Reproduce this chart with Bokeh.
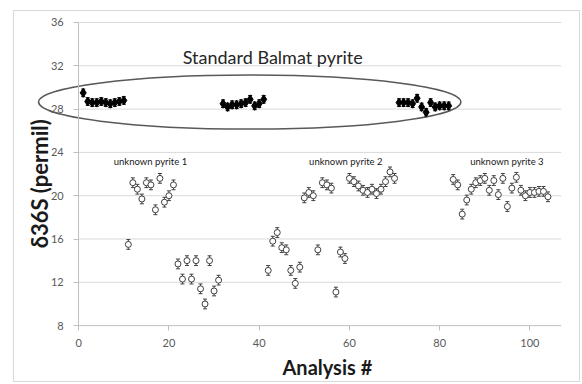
import math
from bokeh.plotting import figure
from bokeh.models import ColumnDataSource, Whisker, TeeHead, Label, Range1d, FixedTicker, Title
from bokeh.embed import file_html
from bokeh.resources import INLINE

# ---------------- data ----------------
x_ticks = [0, 20, 40, 60, 80, 100]
y_ticks = [8, 12, 16, 20, 24, 28, 32, 36]

std_x = [1, 2, 3, 4, 5, 6, 7, 8, 9, 10,
         32, 33, 34, 35, 36, 37, 38, 39, 40, 41,
         71, 72, 73, 74, 75, 76, 77, 78, 79, 80, 81, 82]
std_y = [29.5, 28.7, 28.6, 28.6, 28.7, 28.6, 28.5, 28.6, 28.7, 28.8,
         28.5, 28.2, 28.4, 28.4, 28.5, 28.6, 28.9, 28.3, 28.5, 28.9,
         28.6, 28.6, 28.6, 28.5, 29.0, 28.2, 27.7, 28.6, 28.2, 28.3, 28.3, 28.3]

unk_x = [11, 12, 13, 14, 15, 16, 17, 18, 19, 20, 21, 22, 23, 24, 25, 26, 27, 28, 29, 30, 31,
         42, 43, 44, 45, 46, 47, 48, 49, 50, 51, 52, 53, 54, 55, 56, 57, 58, 59,
         60, 61, 62, 63, 64, 65, 66, 67, 68, 69, 70,
         83, 84, 85, 86, 87, 88, 89, 90, 91, 92, 93, 94, 95, 96, 97, 98, 99, 100, 101, 102, 103, 104]
unk_y = [15.5, 21.2, 20.6, 19.7, 21.2, 21.0, 18.7, 21.6, 19.4, 20.0, 21.0,
         13.7, 12.3, 14.0, 12.3, 14.0, 11.4, 10.0, 14.0, 11.2, 12.2,
         13.1, 15.8, 16.6, 15.2, 15.0, 13.1, 11.9, 13.4, 19.8, 20.3, 20.0, 15.0,
         21.2, 21.0, 20.7, 11.1, 14.8, 14.2,
         21.6, 21.3, 20.9, 20.5, 20.3, 20.6, 20.2, 20.6, 21.3, 22.2, 21.6,
         21.5, 21.0, 18.3, 19.6, 20.6, 21.2, 21.4, 21.6, 20.5, 21.4, 20.1,
         21.6, 19.0, 20.7, 21.7, 20.5, 20.0, 20.3, 20.3, 20.4, 20.4, 19.9]

ERR_STD = 0.35
ERR_UNK = 0.45
X_MAX = 107

FONT = "Lato"

# ---------------- figure ----------------
p = figure(width=567, height=372, output_backend="svg", toolbar_location=None,
           x_range=Range1d(-12.9, X_MAX), y_range=Range1d(7.55, 36.46),
           min_border_left=6, min_border_right=20, min_border_top=6, min_border_bottom=53)
p.margin = (10, 0, 0, 13)
p.styles = {"border": "1px solid #d9d9d9"}
p.outline_line_color = None
p.xgrid.visible = False
p.ygrid.visible = False

# horizontal gridlines from x=0 to the right edge; the lowest one is the x-axis line
p.segment(x0=0, x1=X_MAX, y0=y_ticks[1:], y1=y_ticks[1:], line_color="#d9d9d9", line_width=1, level="underlay")
p.segment(x0=0, x1=X_MAX, y0=y_ticks[0], y1=y_ticks[0], line_color="#bfbfbf", line_width=1, level="underlay")

# x axis (line drawn above at y=8, ticks reach up to it)
xa = p.xaxis[0]
xa.ticker = FixedTicker(ticks=x_ticks)
xa.bounds = (0, X_MAX)
xa.axis_line_color = None
xa.major_tick_line_color = "#bfbfbf"
xa.major_tick_out = 0
xa.major_tick_in = 5
xa.minor_tick_line_color = None
xa.major_label_text_color = "#595959"
xa.major_label_text_font = FONT
xa.major_label_text_font_size = "11px"
xa.major_label_standoff = 8

# x-axis title, placed under the middle of the plotting area
p.add_layout(Title(text="Analysis #", align="left", offset=262, standoff=6,
                   text_font=FONT, text_font_style="bold", text_font_size="20px",
                   text_color="#1a1a1a"), "below")

# y axis placed at x = 0
ya = p.yaxis[0]
ya.fixed_location = 0
ya.ticker = FixedTicker(ticks=y_ticks)
ya.bounds = (8, 36)
ya.axis_line_color = "#bfbfbf"
ya.major_tick_line_color = "#bfbfbf"
ya.major_tick_out = 5
ya.major_tick_in = 0
ya.minor_tick_line_color = None
ya.major_label_text_color = "#595959"
ya.major_label_text_font = FONT
ya.major_label_text_font_size = "11px"
ya.major_label_standoff = 10

# y-axis title
p.add_layout(Label(x=-8.65, y=21.1, text="δ36S (permil)", angle=math.pi / 2,
                   text_align="center", text_baseline="middle", text_font=FONT,
                   text_font_style="bold", text_font_size="22px", text_color="#1a1a1a"))

# error bars
std_src = ColumnDataSource(dict(x=std_x, y=std_y,
                                lo=[v - ERR_STD for v in std_y], hi=[v + ERR_STD for v in std_y]))
unk_src = ColumnDataSource(dict(x=unk_x, y=unk_y,
                                lo=[v - ERR_UNK for v in unk_y], hi=[v + ERR_UNK for v in unk_y]))

for src, col in ((std_src, "#000000"), (unk_src, "#404040")):
    w = Whisker(base="x", upper="hi", lower="lo", source=src, dimension="height",
                line_color=col, line_width=1,
                upper_head=TeeHead(size=4, line_color=col, line_width=1),
                lower_head=TeeHead(size=4, line_color=col, line_width=1))
    p.add_layout(w)

# ellipse around the standards
p.ellipse(x=37.9, y=28.65, width=93.6, height=5.0, fill_color=None,
          line_color="#595959", line_width=1.5)

# markers
p.scatter(std_x, std_y, marker="diamond", size=9, fill_color="black", line_color="black")
p.scatter(unk_x, unk_y, marker="circle", size=6, fill_color="white", line_color="#404040", line_width=1)

# labels
p.add_layout(Label(x=43.0, y=32.8, text="Standard Balmat pyrite", text_align="center",
                   text_baseline="middle", text_font=FONT, text_font_size="18px", text_color="#262626"))
for lx, txt in ((15.9, "unknown pyrite 1"), (59.2, "unknown pyrite 2"), (94.9, "unknown pyrite 3")):
    p.add_layout(Label(x=lx, y=23.2, text=txt, text_align="center", text_baseline="middle",
                       text_font=FONT, text_font_size="9.5px", text_color="#1a1a1a"))

open("out.html", "w").write(file_html(p, INLINE))
